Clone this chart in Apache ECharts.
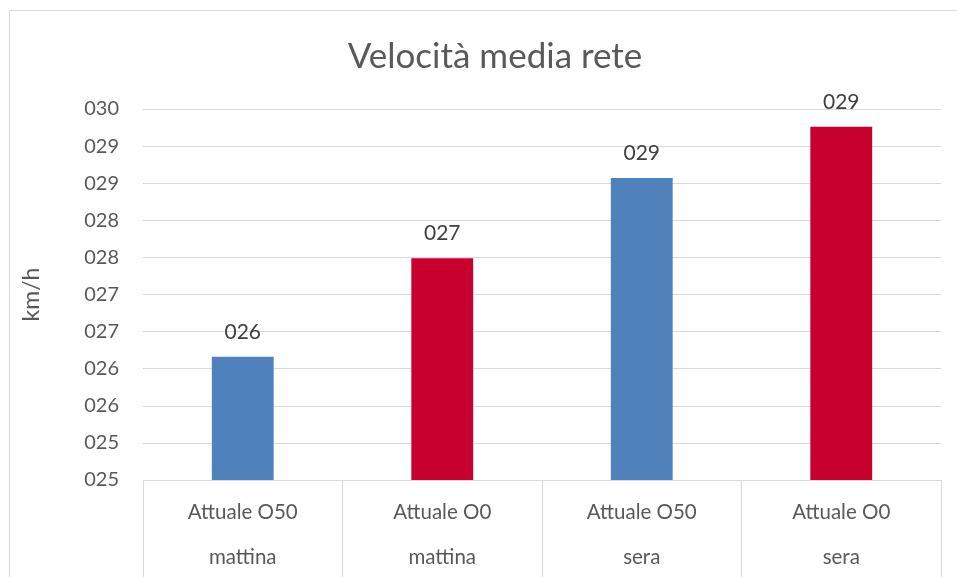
<!DOCTYPE html>
<html>
<head>
<meta charset="utf-8">
<script src="https://cdn.jsdelivr.net/npm/echarts@6/dist/echarts.min.js"></script>
<style>
  html, body { margin: 0; padding: 0; background: #fff; }
  #chart { width: 957px; height: 577px; }
</style>
</head>
<body>
<div id="chart"></div>
<script>
// Scenarios (two-level category labels) and average network speed
const scenarios = ['Attuale O50', 'Attuale O0', 'Attuale O50', 'Attuale O0'];
const periods = ['mattina', 'mattina', 'sera', 'sera'];
const speeds = [26.16, 27.49, 28.57, 29.26];
const barColors = ['#4F81BD', '#C8002E', '#4F81BD', '#C8002E'];

// Value axis range
const yMin = 24.5;
const yMax = 29.5;
const yStep = 0.5;

const pad3 = v => String(Math.round(v)).padStart(3, '0');
const font = 'Lato, "Open Sans", sans-serif';

const chart = echarts.init(document.getElementById('chart'));
chart.setOption({
  animation: false,
  backgroundColor: '#fff',
  textStyle: { fontFamily: font },
  title: {
    text: 'Velocità media rete',
    left: 490,
    textAlign: 'center',
    top: 34,
    textStyle: { fontFamily: font, fontSize: 35, fontWeight: 'normal', color: '#595959' }
  },
  graphic: [{
    type: 'rect',
    shape: { x: 9.5, y: 10.5, width: 980, height: 620 },
    style: { fill: 'none', stroke: '#D9D9D9', lineWidth: 1 },
    silent: true
  }],
  grid: { left: 143, right: 16, top: 109, bottom: 97, outerBoundsMode: 'none' },
  xAxis: {
    type: 'category',
    data: scenarios.map((s, i) => s + '\n' + periods[i]),
    axisLine: { show: true, lineStyle: { color: '#D9D9D9', width: 1 } },
    axisTick: { show: true, length: 100, alignWithLabel: false, lineStyle: { color: '#D9D9D9', width: 1 } },
    axisLabel: {
      margin: 10,
      color: '#595959',
      fontSize: 20.5,
      fontFamily: font,
      lineHeight: 45,
      interval: 0
    }
  },
  yAxis: {
    type: 'value',
    min: yMin,
    max: yMax,
    interval: yStep,
    name: 'km/h',
    nameLocation: 'middle',
    nameGap: 100,
    nameRotate: 90,
    nameTextStyle: { color: '#595959', fontSize: 23, fontFamily: font },
    axisLine: { show: false },
    axisTick: { show: false },
    axisLabel: { formatter: pad3, color: '#595959', fontSize: 20, fontFamily: font, margin: 24 },
    splitLine: { lineStyle: { color: '#D9D9D9', width: 1 } }
  },
  series: [{
    type: 'bar',
    barWidth: '31%',
    data: speeds.map((v, i) => ({ value: v, itemStyle: { color: barColors[i] } })),
    label: {
      show: true,
      position: 'top',
      distance: 14,
      formatter: p => pad3(p.value),
      color: '#404040',
      fontSize: 21,
      fontFamily: font
    }
  }]
});
</script>
</body>
</html>
